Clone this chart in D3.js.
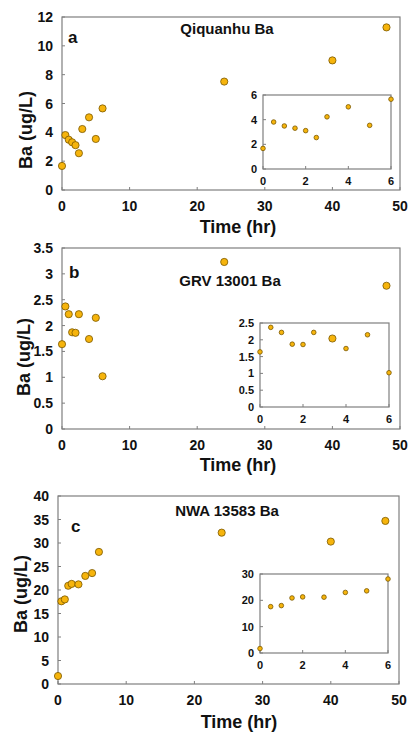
<!DOCTYPE html>
<html lang="en">
  <head>
    <meta charset="UTF-8" />
    <title>Ba release over time</title>
    <style>
      body { margin: 0; background: #fff; }
      text { font-family: "Liberation Sans", Arial, sans-serif; font-weight: bold; fill: #111; }
    </style>
  </head>
  <body>
    <div class="chart"></div>
    <script src="https://d3js.org/d3.v7.min.js"></script>
    <script>
      // data
      const timeA = [0, 0.5, 1, 1.5, 2, 2.5, 3, 4, 5, 6, 24, 40, 48];
      const baA = [1.67, 3.81, 3.49, 3.31, 3.11, 2.55, 4.23, 5.04, 3.54, 5.66, 7.52, 8.99, 11.28];

      const timeB = [0, 0.5, 1, 1.5, 2, 2.5, 4, 5, 6, 24, 40, 48];
      const baB = [1.64, 2.37, 2.22, 1.87, 1.86, 2.22, 1.74, 2.15, 1.02, 3.23, 1.75, 2.77];

      const timeC = [0, 0.5, 1, 1.5, 2, 3, 4, 5, 6, 24, 40, 48];
      const baC = [1.7, 17.6, 18.0, 20.9, 21.3, 21.2, 23.0, 23.6, 28.1, 32.2, 30.3, 34.7];

      const xTicks = [0, 10, 20, 30, 40, 50];
      const insetXTicks = [0, 2, 4, 6];
      const yTicksA = [0, 2, 4, 6, 8, 10, 12];
      const yTicksB = [0, 0.5, 1, 1.5, 2, 2.5, 3, 3.5];
      const yTicksC = [0, 5, 10, 15, 20, 25, 30, 35, 40];
      const insetYTicksA = [0, 2, 4, 6];
      const insetYTicksB = [0, 0.5, 1, 1.5, 2, 2.5];
      const insetYTicksC = [0, 10, 20, 30];

      const titles = ["Qiquanhu Ba", "GRV 13001 Ba", "NWA 13583 Ba"];
      const letters = ["a", "b", "c"];

      const svg = d3
        .select(".chart")
        .append("svg")
        .attr("width", 408)
        .attr("height", 734);

      const frameColor = "#7f7f7f";
      const dotFill = "#f6b40c";
      const dotStroke = "#7a5800";

      // 畫一個外框 + 刻度
      function drawFrame(g, x, y, xt, yt, fontSize, gap, fmt) {
        const [x0, x1] = x.range();
        const [y0, y1] = y.range();
        g.append("rect")
          .attr("x", x0)
          .attr("y", y1)
          .attr("width", x1 - x0)
          .attr("height", y0 - y1)
          .attr("fill", "none")
          .attr("stroke", frameColor)
          .attr("stroke-width", 1.2);

        g.selectAll(".xt")
          .data(xt)
          .join("line")
          .attr("x1", (d) => x(d))
          .attr("x2", (d) => x(d))
          .attr("y1", y0)
          .attr("y2", y0 - 3)
          .attr("stroke", frameColor);
        g.selectAll(".yt")
          .data(yt)
          .join("line")
          .attr("x1", x0)
          .attr("x2", x0 + 3)
          .attr("y1", (d) => y(d))
          .attr("y2", (d) => y(d))
          .attr("stroke", frameColor);

        g.selectAll(".xl")
          .data(xt)
          .join("text")
          .attr("x", (d) => x(d))
          .attr("y", y0 + gap + fontSize * 0.5)
          .attr("text-anchor", "middle")
          .attr("dominant-baseline", "central")
          .style("font-size", fontSize + "px")
          .text((d) => d);
        g.selectAll(".yl")
          .data(yt)
          .join("text")
          .attr("x", x0 - gap)
          .attr("y", (d) => y(d))
          .attr("text-anchor", "end")
          .attr("dominant-baseline", "central")
          .style("font-size", fontSize + "px")
          .text(fmt);
      }

      function drawDots(g, x, y, times, values, r) {
        g.selectAll(null)
          .data(d3.zip(times, values))
          .join("circle")
          .attr("cx", (d) => x(d[0]))
          .attr("cy", (d) => y(d[1]))
          .attr("r", r)
          .attr("fill", dotFill)
          .attr("stroke", dotStroke)
          .attr("stroke-width", 0.8);
      }

      const panels = [
        {
          times: timeA, values: baA, yTicks: yTicksA, insetY: insetYTicksA,
          box: { l: 62, r: 400, t: 17, b: 190 },
          inset: { l: 263, r: 391, t: 95, b: 169 },
          title: [227, 34], letter: [68, 43], yLab: [26, 130], xLab: [238, 227],
        },
        {
          times: timeB, values: baB, yTicks: yTicksB, insetY: insetYTicksB,
          box: { l: 62, r: 400, t: 248, b: 429 },
          inset: { l: 260, r: 389, t: 323, b: 407 },
          title: [230, 286], letter: [69, 278], yLab: [24, 357], xLab: [238, 465],
        },
        {
          times: timeC, values: baC, yTicks: yTicksC, insetY: insetYTicksC,
          box: { l: 58, r: 399, t: 496, b: 684 },
          inset: { l: 260, r: 388, t: 574, b: 653 },
          title: [227, 516], letter: [71, 532], yLab: [21, 594], xLab: [239, 722],
        },
      ];

      panels.forEach((p, i) => {
        const g = svg.append("g");
        const yMax = p.yTicks[p.yTicks.length - 1];
        const x = d3.scaleLinear().domain([0, 50]).range([p.box.l, p.box.r]);
        const y = d3.scaleLinear().domain([0, yMax]).range([p.box.b, p.box.t]);

        drawFrame(g, x, y, xTicks, p.yTicks, 14, 9, (d) => d);

        // inset (0–6 hr)
        const iyMax = p.insetY[p.insetY.length - 1];
        const ix = d3.scaleLinear().domain([0, 6]).range([p.inset.l, p.inset.r]);
        const iy = d3.scaleLinear().domain([0, iyMax]).range([p.inset.b, p.inset.t]);
        const gi = g.append("g");
        drawFrame(gi, ix, iy, insetXTicks, p.insetY, 11, 6, (d) => d);
        const early = p.times.map((t, k) => k).filter((k) => p.times[k] <= 6);
        drawDots(
          gi, ix, iy,
          early.map((k) => p.times[k]),
          early.map((k) => p.values[k]),
          2.3
        );

        drawDots(g, x, y, p.times, p.values, 3.6);

        g.append("text")
          .attr("x", p.title[0])
          .attr("y", p.title[1])
          .attr("text-anchor", "middle")
          .style("font-size", "15px")
          .text(titles[i]);
        g.append("text")
          .attr("x", p.letter[0])
          .attr("y", p.letter[1])
          .style("font-size", "17px")
          .text(letters[i]);
        g.append("text")
          .attr("transform", `translate(${p.yLab[0]},${p.yLab[1]}) rotate(-90)`)
          .attr("text-anchor", "middle")
          .attr("dominant-baseline", "central")
          .style("font-size", "18px")
          .text("Ba (ug/L)");
        g.append("text")
          .attr("x", p.xLab[0])
          .attr("y", p.xLab[1])
          .attr("text-anchor", "middle")
          .attr("dominant-baseline", "central")
          .style("font-size", "18px")
          .text("Time (hr)");
      });
    </script>
  </body>
</html>
